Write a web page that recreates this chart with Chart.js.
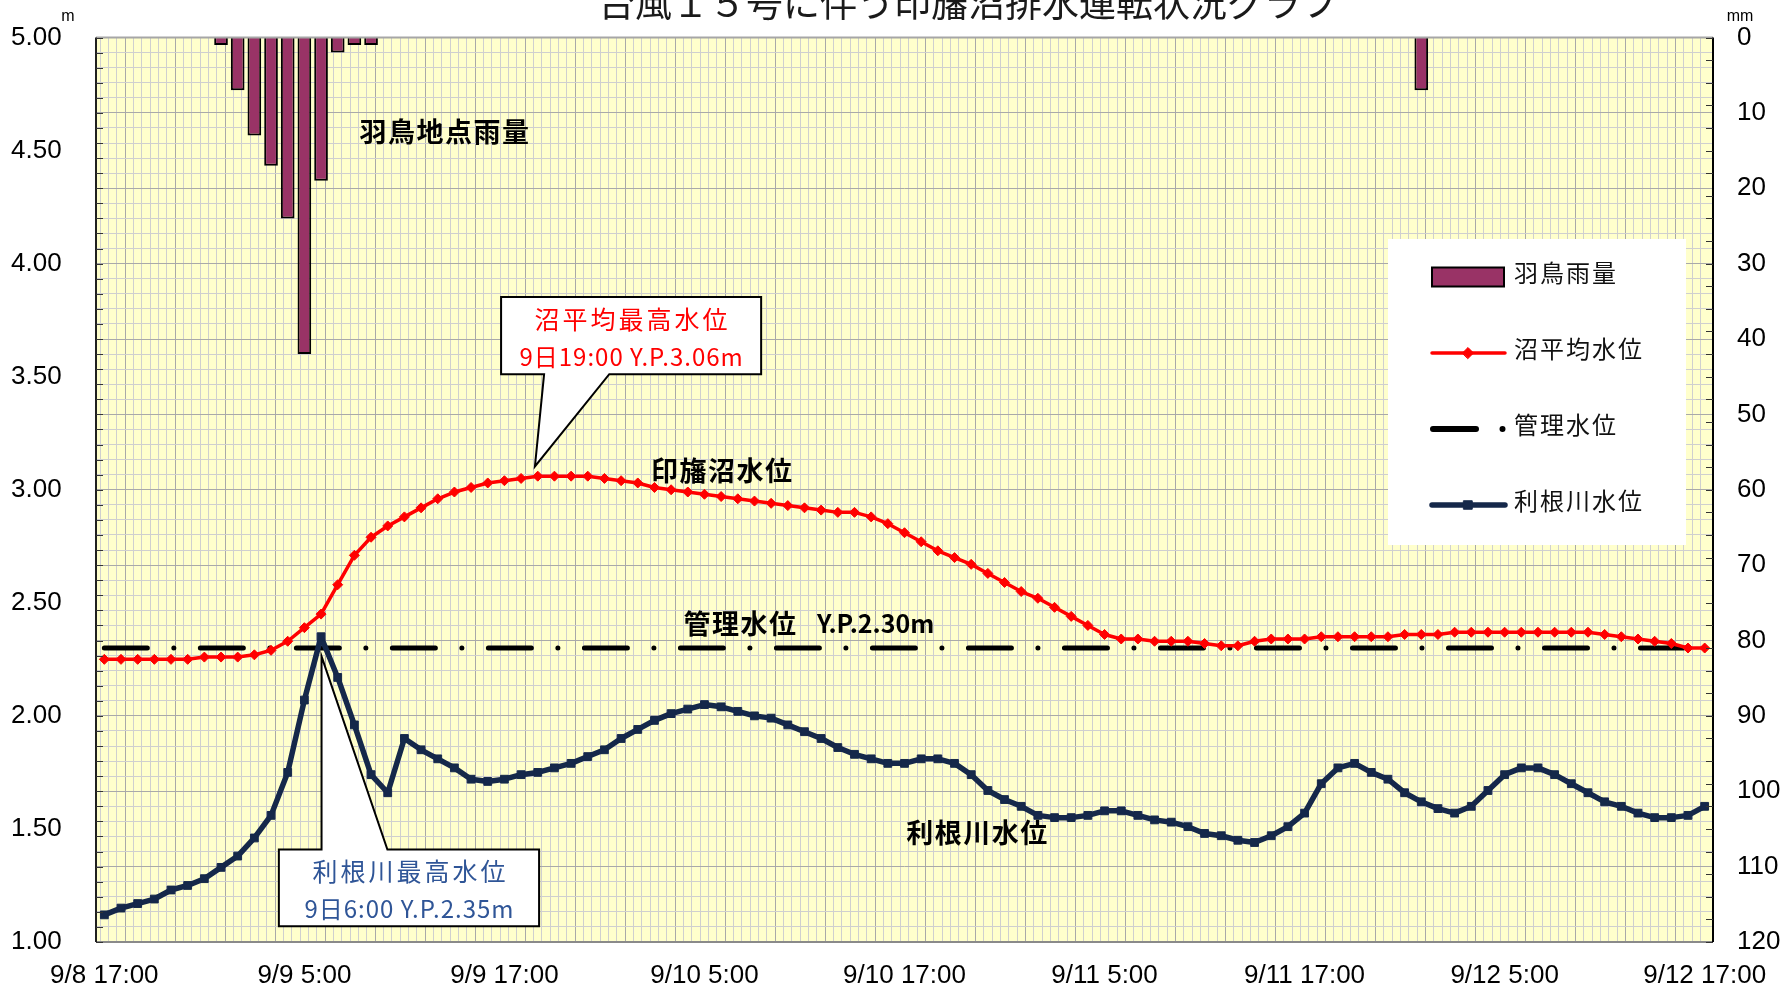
<!DOCTYPE html>
<html lang="ja">
<head>
<meta charset="utf-8">
<title>台風15号に伴う印旛沼排水運転状況グラフ</title>
<script src="https://cdn.jsdelivr.net/npm/chart.js@4.4.1/dist/chart.umd.min.js"></script>
<style>
  html, body { margin: 0; padding: 0; background: #fff; }
</style>
</head>
<body>
<canvas id="chart" width="1786" height="989"></canvas>
<script>
// hourly categories, 9/8 17:00 .. 9/12 17:00
const times = [
  "9/8 17:00","9/8 18:00","9/8 19:00","9/8 20:00","9/8 21:00","9/8 22:00","9/8 23:00",
  "9/9 0:00","9/9 1:00","9/9 2:00","9/9 3:00","9/9 4:00","9/9 5:00","9/9 6:00","9/9 7:00","9/9 8:00","9/9 9:00","9/9 10:00","9/9 11:00",
  "9/9 12:00","9/9 13:00","9/9 14:00","9/9 15:00","9/9 16:00","9/9 17:00","9/9 18:00","9/9 19:00","9/9 20:00","9/9 21:00","9/9 22:00","9/9 23:00",
  "9/10 0:00","9/10 1:00","9/10 2:00","9/10 3:00","9/10 4:00","9/10 5:00","9/10 6:00","9/10 7:00","9/10 8:00","9/10 9:00","9/10 10:00","9/10 11:00",
  "9/10 12:00","9/10 13:00","9/10 14:00","9/10 15:00","9/10 16:00","9/10 17:00","9/10 18:00","9/10 19:00","9/10 20:00","9/10 21:00","9/10 22:00","9/10 23:00",
  "9/11 0:00","9/11 1:00","9/11 2:00","9/11 3:00","9/11 4:00","9/11 5:00","9/11 6:00","9/11 7:00","9/11 8:00","9/11 9:00","9/11 10:00","9/11 11:00",
  "9/11 12:00","9/11 13:00","9/11 14:00","9/11 15:00","9/11 16:00","9/11 17:00","9/11 18:00","9/11 19:00","9/11 20:00","9/11 21:00","9/11 22:00","9/11 23:00",
  "9/12 0:00","9/12 1:00","9/12 2:00","9/12 3:00","9/12 4:00","9/12 5:00","9/12 6:00","9/12 7:00","9/12 8:00","9/12 9:00","9/12 10:00","9/12 11:00",
  "9/12 12:00","9/12 13:00","9/12 14:00","9/12 15:00","9/12 16:00","9/12 17:00"
];

// 羽鳥雨量 (mm / h)
const rainMm = [
  null,null,null,null,null,null,null,1,7,13,17,24,
  42,19,2,1,1,null,null,null,null,null,null,null,
  null,null,null,null,null,null,null,null,null,null,null,null,
  null,null,null,null,null,null,null,null,null,null,null,null,
  null,null,null,null,null,null,null,null,null,null,null,null,
  null,null,null,null,null,null,null,null,null,null,null,null,
  null,null,null,null,null,null,null,7,null,null,null,null,
  null,null,null,null,null,null,null,null,null,null,null,null,
  null
];

// 沼平均水位 (Y.P. m)
const numaLevel = [
  2.25,2.25,2.25,2.25,2.25,2.25,2.26,2.26,2.26,2.27,2.29,2.33,
  2.39,2.45,2.58,2.71,2.79,2.84,2.88,2.92,2.96,2.99,3.01,3.03,
  3.04,3.05,3.06,3.06,3.06,3.06,3.05,3.04,3.03,3.01,3.00,2.99,
  2.98,2.97,2.96,2.95,2.94,2.93,2.92,2.91,2.90,2.90,2.88,2.85,
  2.81,2.77,2.73,2.70,2.67,2.63,2.59,2.55,2.52,2.48,2.44,2.40,
  2.36,2.34,2.34,2.33,2.33,2.33,2.32,2.31,2.31,2.33,2.34,2.34,
  2.34,2.35,2.35,2.35,2.35,2.35,2.36,2.36,2.36,2.37,2.37,2.37,
  2.37,2.37,2.37,2.37,2.37,2.37,2.36,2.35,2.34,2.33,2.32,2.30,
  2.30
];

// 利根川水位 (Y.P. m)
const toneLevel = [
  1.12,1.15,1.17,1.19,1.23,1.25,1.28,1.33,1.38,1.46,1.56,1.75,
  2.07,2.35,2.17,1.96,1.74,1.66,1.90,1.85,1.81,1.77,1.72,1.71,
  1.72,1.74,1.75,1.77,1.79,1.82,1.85,1.90,1.94,1.98,2.01,2.03,
  2.05,2.04,2.02,2.00,1.99,1.96,1.93,1.90,1.86,1.83,1.81,1.79,
  1.79,1.81,1.81,1.79,1.74,1.67,1.63,1.60,1.56,1.55,1.55,1.56,
  1.58,1.58,1.56,1.54,1.53,1.51,1.48,1.47,1.45,1.44,1.47,1.51,
  1.57,1.70,1.77,1.79,1.75,1.72,1.66,1.62,1.59,1.57,1.60,1.67,
  1.74,1.77,1.77,1.74,1.70,1.66,1.62,1.60,1.57,1.55,1.55,1.56,
  1.60
];

// 管理水位
const kanriLevel = 2.30;

const FONT_JP = '"Noto Sans CJK JP", "Noto Sans", sans-serif';
const FONT_NUM = '"Liberation Sans", Arial, sans-serif';
const COL = {
  plot: '#ffffcc', gridMinor: '#cfcfcf', gridMajor: '#a9a9a9',
  red: '#ff0000', navy: '#15284a', rain: '#993366', blue: '#2f5597'
};
const KANRI_DASH = [43, 26.5, 0.01, 26.5];

/* ---------- annotations (data coordinates: category index / metres) ---------- */
const callouts = [
  { color: COL.red, lines: ['沼平均最高水位', '9日19:00 Y.P.3.06m'],
    L: 23.8, R: 39.4, T: 3.852, B: 3.511, baseL: 26.38, baseR: 30.29, tip: [25.83, 3.103], side: 'bottom' },
  { color: COL.blue, lines: ['利根川最高水位', '9日6:00 Y.P.2.35m'],
    L: 10.47, R: 26.08, T: 1.409, B: 1.070, baseL: 13.03, baseR: 16.98, tip: [13.03, 2.263], side: 'top' }
];
const seriesNotes = [
  { text: '羽鳥地点雨量', i: 15.3, v: 4.582, size: 27 },
  { text: '印旛沼水位', i: 32.8, v: 3.082, size: 27 },
  { text: '管理水位', i: 34.75, v: 2.408, size: 27 },
  { text: 'Y.P.2.30m', i: 42.75, v: 2.408, size: 25 },
  { text: '利根川水位', i: 48.1, v: 1.484, size: 27 }
];

function pt(chart, i, v) {
  return [chart.scales.xg.getPixelForValue(i), chart.scales.y.getPixelForValue(v)];
}

function drawCallout(chart, c) {
  const ctx = chart.ctx;
  const [l, t] = pt(chart, c.L, c.T);
  const [r, b] = pt(chart, c.R, c.B);
  const bl = pt(chart, c.baseL, 0)[0];
  const br = pt(chart, c.baseR, 0)[0];
  const [tx, ty] = pt(chart, c.tip[0], c.tip[1]);
  let path;
  if (c.side === 'bottom') {
    path = [[l, t], [r, t], [r, b], [br, b], [tx, ty], [bl, b], [l, b]];
  } else {
    path = [[l, t], [bl, t], [tx, ty], [br, t], [r, t], [r, b], [l, b]];
  }
  ctx.save();
  ctx.beginPath();
  path.forEach(([x, y], k) => k ? ctx.lineTo(x, y) : ctx.moveTo(x, y));
  ctx.closePath();
  ctx.fillStyle = '#fff';
  ctx.fill();
  ctx.lineWidth = 2;
  ctx.strokeStyle = '#000';
  ctx.stroke();

  const cx = (l + r) / 2, h = b - t;
  ctx.fillStyle = c.color;
  ctx.textAlign = 'center';
  ctx.textBaseline = 'middle';
  ctx.font = `25px ${FONT_JP}`;
  ctx.letterSpacing = '3px';
  ctx.fillText(c.lines[0], cx + 1.5, t + h * 0.29);
  ctx.font = `24px ${FONT_JP}`;
  ctx.letterSpacing = '1px';
  ctx.fillText(c.lines[1], cx + 0.5, t + h * 0.78);
  ctx.restore();
}

function drawLegend(chart) {
  const ctx = chart.ctx;
  const order = ['羽鳥雨量', '沼平均水位', '管理水位', '利根川水位'];
  const x0 = 1388, y0 = 239;
  ctx.save();
  ctx.fillStyle = '#fff';
  ctx.fillRect(x0, y0, 298, 306);
  order.forEach((name, k) => {
    const ds = chart.data.datasets.find(d => d.label === name);
    const ty = y0 + 34 + k * 76;
    const sy = ty + 4;
    ctx.save();
    if (ds.type === 'bar') {
      ctx.fillStyle = ds.backgroundColor;
      ctx.fillRect(x0 + 44, sy - 9.5, 72, 19);
      ctx.lineWidth = 2;
      ctx.strokeStyle = ds.borderColor;
      ctx.strokeRect(x0 + 44, sy - 9.5, 72, 19);
    } else {
      ctx.beginPath();
      ctx.strokeStyle = ds.borderColor;
      ctx.lineCap = 'round';
      if (ds.borderDash) {
        ctx.lineWidth = 6;
        ctx.setLineDash(ds.borderDash);
        ctx.moveTo(x0 + 45, sy);
        ctx.lineTo(x0 + 120, sy);
      } else {
        ctx.lineWidth = ds.borderWidth;
        ctx.moveTo(x0 + 44, sy);
        ctx.lineTo(x0 + 117, sy);
      }
      ctx.stroke();
      ctx.setLineDash([]);
      if (ds.pointRadius) {
        ctx.fillStyle = ds.borderColor;
        ctx.lineWidth = 1;
        ctx.beginPath();
        Chart.helpers.drawPoint(ctx, { pointStyle: ds.pointStyle, radius: ds.pointRadius + 0.5, rotation: 0, borderWidth: 1 }, x0 + 80, sy);
      }
    }
    ctx.restore();
    ctx.save();
    ctx.fillStyle = '#111';
    ctx.font = `24px ${FONT_JP}`;
    ctx.letterSpacing = '2px';
    ctx.textAlign = 'left';
    ctx.textBaseline = 'middle';
    ctx.fillText(name, x0 + 126, ty);
    ctx.restore();
  });
  ctx.restore();
}

const decor = {
  id: 'decor',
  beforeDraw(chart) {
    const { ctx, chartArea: a } = chart;
    ctx.save();
    ctx.fillStyle = '#fff';
    ctx.fillRect(0, 0, chart.width, chart.height);
    ctx.fillStyle = COL.plot;
    ctx.fillRect(a.left, a.top, a.right - a.left, a.bottom - a.top);
    ctx.restore();
  },
  beforeDatasetsDraw(chart) {
    callouts.forEach(c => drawCallout(chart, c));
  },
  afterDatasetsDraw(chart) {
    const { ctx, chartArea: a, scales } = chart;
    ctx.save();
    // frame
    ctx.lineWidth = 2;
    ctx.strokeStyle = '#a6a6a6';
    ctx.beginPath(); ctx.moveTo(a.left, a.top); ctx.lineTo(a.right, a.top); ctx.stroke();
    ctx.strokeStyle = '#8a8a8a';
    ctx.beginPath(); ctx.moveTo(a.left, a.bottom); ctx.lineTo(a.right, a.bottom); ctx.stroke();
    ctx.strokeStyle = '#202020';
    ctx.beginPath(); ctx.moveTo(a.left, a.top); ctx.lineTo(a.left, a.bottom); ctx.stroke();
    ctx.strokeStyle = '#000';
    ctx.beginPath(); ctx.moveTo(a.right, a.top); ctx.lineTo(a.right, a.bottom); ctx.stroke();
    // inner tick marks
    ctx.lineWidth = 1.2;
    ctx.strokeStyle = '#333';
    ctx.beginPath();
    scales.y2.ticks.forEach(t => {
      const y = Math.round(scales.y2.getPixelForValue(t.value)) + 0.5;
      ctx.moveTo(a.left, y); ctx.lineTo(a.left + 7, y);
    });
    for (let k = 0; k <= 40; k++) {
      const y = Math.round(scales.y.getPixelForValue(1 + k / 10)) + 0.5;
      ctx.moveTo(a.right - 7, y); ctx.lineTo(a.right, y);
    }
    ctx.stroke();
    // series notes
    ctx.fillStyle = '#000';
    ctx.textAlign = 'left';
    ctx.textBaseline = 'middle';
    seriesNotes.forEach(n => {
      const [x, y] = pt(chart, n.i, n.v);
      ctx.font = `bold ${n.size}px ${FONT_JP}`;
      ctx.letterSpacing = n.size >= 27 ? '1.5px' : '0px';
      ctx.fillText(n.text, x, y);
    });
    ctx.restore();
  },
  afterDraw(chart) {
    const ctx = chart.ctx;
    drawLegend(chart);
    ctx.save();
    ctx.fillStyle = '#1a1a1a';
    ctx.textAlign = 'center';
    ctx.textBaseline = 'alphabetic';
    ctx.font = `37px ${FONT_JP}`;
    ctx.fillText('台風１５号に伴う印旛沼排水運転状況グラフ', 968, 17);
    ctx.fillStyle = '#000';
    ctx.font = `16px ${FONT_NUM}`;
    ctx.fillText('m', 68, 21);
    ctx.fillText('mm', 1740, 21);
    ctx.restore();
  }
};

function xGridColor(c) {
  if (!c.tick) return 'rgba(0,0,0,0)';
  const v = c.tick.value;
  if (v <= -0.5 || v >= 96.5) return 'rgba(0,0,0,0)';
  return Math.abs((v - 1.5) % 3) < 1e-6 ? COL.gridMajor : COL.gridMinor;
}

function yGridColor(c) {
  if (!c.tick) return 'rgba(0,0,0,0)';
  return c.tick.value % 10 === 0 ? COL.gridMajor : COL.gridMinor;
}

const ctx = document.getElementById('chart').getContext('2d');
const chart = new Chart(ctx, {
  type: 'bar',
  data: {
    labels: times,
    datasets: [
      {
        type: 'line', label: '利根川水位', data: toneLevel, yAxisID: 'y',
        borderColor: COL.navy, backgroundColor: COL.navy, borderWidth: 5.5,
        borderJoinStyle: 'round', pointStyle: 'rect', pointRadius: 5.5,
        pointBorderWidth: 1, tension: 0, order: 0
      },
      {
        type: 'line', label: '沼平均水位', data: numaLevel, yAxisID: 'y',
        borderColor: COL.red, backgroundColor: COL.red, borderWidth: 3.5,
        borderJoinStyle: 'round', pointStyle: 'rectRot', pointRadius: 5,
        pointBorderWidth: 1, tension: 0, order: 1
      },
      {
        type: 'line', label: '管理水位', yAxisID: 'y',
        data: [{ x: times[0], y: kanriLevel }, { x: times[times.length - 1], y: kanriLevel }],
        borderColor: '#000', borderWidth: 5, borderDash: KANRI_DASH, borderCapStyle: 'round',
        pointRadius: 0, order: 2
      },
      {
        type: 'bar', label: '羽鳥雨量', data: rainMm, yAxisID: 'y2',
        backgroundColor: COL.rain, borderColor: '#000', borderWidth: 2,
        barPercentage: 0.82, categoryPercentage: 1.0, order: 3
      }
    ]
  },
  options: {
    responsive: false,
    devicePixelRatio: 1,
    animation: false,
    layout: { padding: { top: 37.5, left: 11, right: 0, bottom: 0 } },
    plugins: {
      legend: { display: false },
      title: { display: false },
      tooltip: { enabled: false }
    },
    scales: {
      x: {
        type: 'category', offset: true,
        grid: { display: false, drawTicks: false },
        border: { display: false },
        ticks: {
          autoSkip: false, maxRotation: 0, minRotation: 0, padding: 18,
          color: '#000', font: { family: FONT_NUM, size: 26 },
          callback: (v, i) => (i % 12 === 0 ? times[i] : '')
        },
        afterFit: s => { s.height = 47; }
      },
      xg: {
        type: 'linear', position: 'bottom', min: -0.5, max: 96.5, offset: false,
        ticks: { display: false, stepSize: 0.5, autoSkip: false },
        grid: { drawTicks: false, lineWidth: 1, color: xGridColor },
        border: { display: false },
        afterFit: s => { s.height = 0; }
      },
      y: {
        position: 'left', min: 1, max: 5,
        ticks: {
          stepSize: 0.5, padding: 0, crossAlign: 'far', color: '#000',
          font: { family: FONT_NUM, size: 26, lineHeight: 1 },
          callback: v => Number(v).toFixed(2)
        },
        grid: { display: false, drawTicks: false },
        border: { display: false },
        afterFit: s => { s.width = 85; }
      },
      y2: {
        position: 'right', min: 0, max: 120, reverse: true,
        ticks: {
          stepSize: 2, autoSkip: false, padding: 24, color: '#000',
          font: { family: FONT_NUM, size: 26, lineHeight: 1 },
          callback: v => (v % 10 === 0 ? String(v) : '')
        },
        grid: { drawTicks: false, lineWidth: 1, color: yGridColor },
        border: { display: false },
        afterFit: s => { s.width = 73; }
      }
    }
  },
  plugins: [decor]
});
</script>
</body>
</html>
